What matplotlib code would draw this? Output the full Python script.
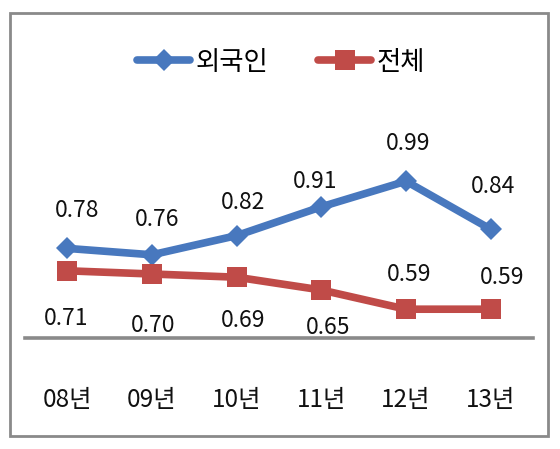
import matplotlib
matplotlib.use("Agg")
import matplotlib.pyplot as plt
from matplotlib.patches import Rectangle

plt.rcParams['font.family'] = ['Noto Sans CJK KR', 'DejaVu Sans']

categories = ['08년', '09년', '10년', '11년', '12년', '13년']
foreign = [0.78, 0.76, 0.82, 0.91, 0.99, 0.84]
total = [0.71, 0.70, 0.69, 0.65, 0.59, 0.59]
foreign_labels = ['0.78', '0.76', '0.82', '0.91', '0.99', '0.84']
total_labels = ['0.71', '0.70', '0.69', '0.65', '0.59', '0.59']

# label offsets (pixels, x right / y down) - layout only
foreign_off = [(10, -38), (5, -35), (6, -33), (-6, -25), (2, -38), (2, -43)]
total_off = [(-1, 48), (1, 52), (6, 43), (7, 38), (3, -35), (11, -32)]

blue = '#4878BE'
red = '#C04B48'

fig = plt.figure(figsize=(5.6, 4.49), dpi=100)
fig.patch.set_facecolor('white')
ax = fig.add_axes([25/560, 111/449, 508/560, 224/449])

x = list(range(len(categories)))
l1, = ax.plot(x, foreign, color=blue, lw=5.5, marker='D', markersize=11,
              markeredgewidth=0, label='외국인', solid_capstyle='round')
l2, = ax.plot(x, total, color=red, lw=5.5, marker='s', markersize=14,
              markeredgewidth=0, label='전체', solid_capstyle='round')

ax.set_xlim(-0.5, len(categories) - 0.5)
ax.set_ylim(0.5, 1.2)
ax.set_xticks(x)
ax.set_xticklabels(categories, fontsize=17.5)
ax.tick_params(axis='x', length=0, pad=35, colors='#111111')
ax.set_yticks([])
for s in ['top', 'left', 'right']:
    ax.spines[s].set_visible(False)
ax.spines['bottom'].set_color('#8a8a8a')
ax.spines['bottom'].set_linewidth(2.6)
ax.patch.set_alpha(0)

k = 72 / 100
for i in x:
    dx, dy = foreign_off[i]
    ax.annotate(foreign_labels[i], (i, foreign[i]), xytext=(dx*k, -dy*k),
                textcoords='offset points', ha='center', va='center',
                fontsize=16.5, color='#111111')
    dx, dy = total_off[i]
    ax.annotate(total_labels[i], (i, total[i]), xytext=(dx*k, -dy*k),
                textcoords='offset points', ha='center', va='center',
                fontsize=16.5, color='#111111')

fig.legend(handles=[l1, l2], loc='center', bbox_to_anchor=(0.502, 1 - 62/449),
           ncol=2, frameon=False, fontsize=19, handlelength=2.0,
           handletextpad=0.2, columnspacing=1.9)

fig.patches.append(Rectangle((10/560, 13/449), 538/560, 423/449,
                             transform=fig.transFigure, fill=False,
                             edgecolor='#8a8a8a', lw=2.0))

fig.savefig('out.png', dpi=100)
